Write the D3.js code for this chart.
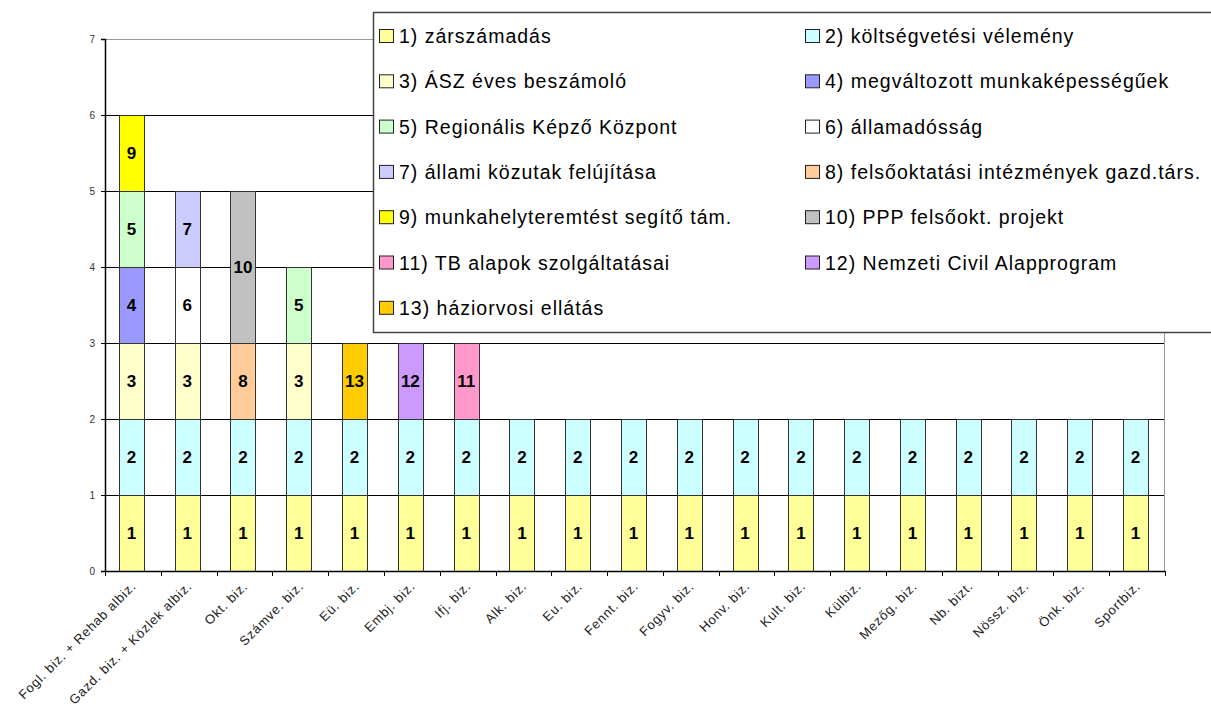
<!DOCTYPE html>
<html>
<head>
<meta charset="utf-8">
<script src="https://cdn.jsdelivr.net/npm/d3@7"></script>
<style>
    body { margin: 0; background: #fff; }
    #container { width: 1211px; height: 707px; }
    text { font-family: "Liberation Sans", Arial, sans-serif; }
</style>
</head>
<body>
<div id="container"></div>
<script>

// committees (x axis)
var categories = [
    "Fogl. biz. + Rehab albiz.", "Gazd. biz. + Közlek albiz.", "Okt. biz.", "Számve. biz.",
    "Eü. biz.", "Embj. biz.", "Ifj. biz.", "Alk. biz.", "Eu. biz.", "Fennt. biz.",
    "Fogyv. biz.", "Honv. biz.", "Kult. biz.", "Külbiz.", "Mezőg. biz.", "Nb. bizt.",
    "Nössz. biz.", "Önk. biz.", "Sportbiz."
];

// topics (series)
var topics = [
    "1) zárszámadás", "2) költségvetési vélemény", "3) ÁSZ éves beszámoló",
    "4) megváltozott munkaképességűek", "5) Regionális Képző Központ", "6) államadósság",
    "7) állami közutak felújítása", "8) felsőoktatási intézmények gazd.társ.",
    "9) munkahelyteremtést segítő tám.", "10) PPP felsőokt. projekt",
    "11) TB alapok szolgáltatásai", "12) Nemzeti Civil Alapprogram", "13) háziorvosi ellátás"
];

var topicColors = ["#FFFF99", "#CCFFFF", "#FFFFCC", "#9999FF", "#CCFFCC", "#FFFFFF",
    "#CCCCFF", "#FFCC99", "#FFFF00", "#C0C0C0", "#FF99CC", "#CC99FF", "#FFCC00"];

// values per topic, one per committee
var t1  = [1, 1, 1, 1, 1, 1, 1, 1, 1, 1, 1, 1, 1, 1, 1, 1, 1, 1, 1];
var t2  = [1, 1, 1, 1, 1, 1, 1, 1, 1, 1, 1, 1, 1, 1, 1, 1, 1, 1, 1];
var t3  = [1, 1, 0, 1, 0, 0, 0, 0, 0, 0, 0, 0, 0, 0, 0, 0, 0, 0, 0];
var t4  = [1, 0, 0, 0, 0, 0, 0, 0, 0, 0, 0, 0, 0, 0, 0, 0, 0, 0, 0];
var t5  = [1, 0, 0, 1, 0, 0, 0, 0, 0, 0, 0, 0, 0, 0, 0, 0, 0, 0, 0];
var t6  = [0, 1, 0, 0, 0, 0, 0, 0, 0, 0, 0, 0, 0, 0, 0, 0, 0, 0, 0];
var t7  = [0, 1, 0, 0, 0, 0, 0, 0, 0, 0, 0, 0, 0, 0, 0, 0, 0, 0, 0];
var t8  = [0, 0, 1, 0, 0, 0, 0, 0, 0, 0, 0, 0, 0, 0, 0, 0, 0, 0, 0];
var t9  = [1, 0, 0, 0, 0, 0, 0, 0, 0, 0, 0, 0, 0, 0, 0, 0, 0, 0, 0];
var t10 = [0, 0, 2, 0, 0, 0, 0, 0, 0, 0, 0, 0, 0, 0, 0, 0, 0, 0, 0];
var t11 = [0, 0, 0, 0, 0, 0, 1, 0, 0, 0, 0, 0, 0, 0, 0, 0, 0, 0, 0];
var t12 = [0, 0, 0, 0, 0, 1, 0, 0, 0, 0, 0, 0, 0, 0, 0, 0, 0, 0, 0];
var t13 = [0, 0, 0, 0, 1, 0, 0, 0, 0, 0, 0, 0, 0, 0, 0, 0, 0, 0, 0];

var yTicks = [0, 1, 2, 3, 4, 5, 6, 7];

var series = [t1, t2, t3, t4, t5, t6, t7, t8, t9, t10, t11, t12, t13];

var margin = { top: 39, right: 46, bottom: 136, left: 105 },
    width = 1211 - margin.left - margin.right,
    height = 707 - margin.top - margin.bottom;

var rows = categories.map(function (c, i)
{
    var row = { name: c };
    topics.forEach(function (t, k) { row[k] = series[k][i]; });
    return row;
});

var keys = d3.range(topics.length);
var stacked = d3.stack().keys(keys)(rows);

var svg = d3.select("#container").append("svg")
    .attr("width", 1211)
    .attr("height", 707);

var g = svg.append("g").attr("transform", "translate(" + margin.left + "," + margin.top + ")");

var x = d3.scaleBand().domain(categories).range([0, width]).paddingInner(0.55).paddingOuter(0.275);
var y = d3.scaleLinear().domain([0, 7]).range([height, 0]);
var shift = -1.5; // bars sit a bit left of the band centre

// grid
g.selectAll(".grid").data(yTicks.filter(function (d) { return d > 0 && d < 7; }))
    .enter().append("line")
    .attr("x1", 0).attr("x2", width)
    .attr("y1", function (d) { return Math.round(y(d)) + 0.5; })
    .attr("y2", function (d) { return Math.round(y(d)) + 0.5; })
    .attr("stroke", "#000").attr("stroke-width", 1);

// plot border (top + right)
g.append("path")
    .attr("d", "M0," + (y(7) + 0.5) + "H" + (width - 0.5) + "V" + height)
    .attr("fill", "none").attr("stroke", "#999");

// bars
var layer = g.selectAll(".layer").data(stacked).enter().append("g")
    .attr("fill", function (d) { return topicColors[d.key]; });

layer.selectAll("rect").data(function (d) { return d.filter(function (p) { return p[1] > p[0]; }); })
    .enter().append("rect")
    .attr("x", function (d) { return Math.round(x(d.data.name) + shift) + 0.5; })
    .attr("y", function (d) { return Math.round(y(d[1])) + 0.5; })
    .attr("width", Math.round(x.bandwidth()))
    .attr("height", function (d) { return Math.round(y(d[0])) - Math.round(y(d[1])); })
    .attr("stroke", "#333").attr("stroke-width", 1);

// segment labels
stacked.forEach(function (s)
{
    s.forEach(function (p)
    {
        if (p[1] <= p[0]) return;
        g.append("text")
            .attr("x", x(p.data.name) + x.bandwidth() / 2 + shift)
            .attr("y", y((p[0] + p[1]) / 2))
            .attr("dy", "0.36em")
            .attr("text-anchor", "middle")
            .style("font-size", "17px").style("font-weight", "bold")
            .attr("fill", "#000")
            .text(s.key + 1);
    });
});

// axes
var yAxis = g.append("g").call(d3.axisLeft(y).tickValues(yTicks).tickSize(4).tickFormat(d3.format("d")));
yAxis.select(".domain").attr("stroke", "#000").attr("stroke-width", 1.5);
yAxis.selectAll("text").style("font-size", "10px").attr("fill", "#333").attr("x", -10);

var xAxis = g.append("g").attr("transform", "translate(0," + height + ")");
xAxis.append("line").attr("x1", 0).attr("x2", width).attr("y1", 0.5).attr("y2", 0.5)
    .attr("stroke", "#000").attr("stroke-width", 1.5);
xAxis.selectAll(".tk").data(d3.range(categories.length + 1)).enter().append("line")
    .attr("x1", function (i) { return Math.round(i * x.step()) + 0.5; })
    .attr("x2", function (i) { return Math.round(i * x.step()) + 0.5; })
    .attr("y1", 0).attr("y2", 5)
    .attr("stroke", "#000");
xAxis.selectAll(".lbl").data(categories).enter().append("text")
    .attr("text-anchor", "end")
    .attr("transform", function (d)
    {
        return "translate(" + (x(d) + x.bandwidth() / 2 + 4) + ",16) rotate(-45)";
    })
    .style("font-size", "13px").style("letter-spacing", "0.8px").attr("fill", "#222")
    .text(function (d) { return d; });

// legend
var legend = svg.append("g").attr("transform", "translate(373,12)");
legend.append("rect").attr("x", 0.5).attr("y", 0.5).attr("width", 850).attr("height", 320)
    .attr("fill", "#fff").attr("stroke", "#444").attr("stroke-width", 1.5);

topics.forEach(function (t, k)
{
    var col = k % 2, row = Math.floor(k / 2);
    var item = legend.append("g")
        .attr("transform", "translate(" + (col === 0 ? 6 : 432) + "," + (24 + row * 45.3) + ")");
    item.append("rect").attr("x", 0.5).attr("y", -6.5).attr("width", 14).attr("height", 13)
        .attr("fill", topicColors[k]).attr("stroke", "#222");
    item.append("text").attr("x", 20).attr("dy", "0.36em")
        .style("font-size", "19.5px").style("letter-spacing", "1px").attr("fill", "#000")
        .text(t);
});

</script>
</body>
</html>
